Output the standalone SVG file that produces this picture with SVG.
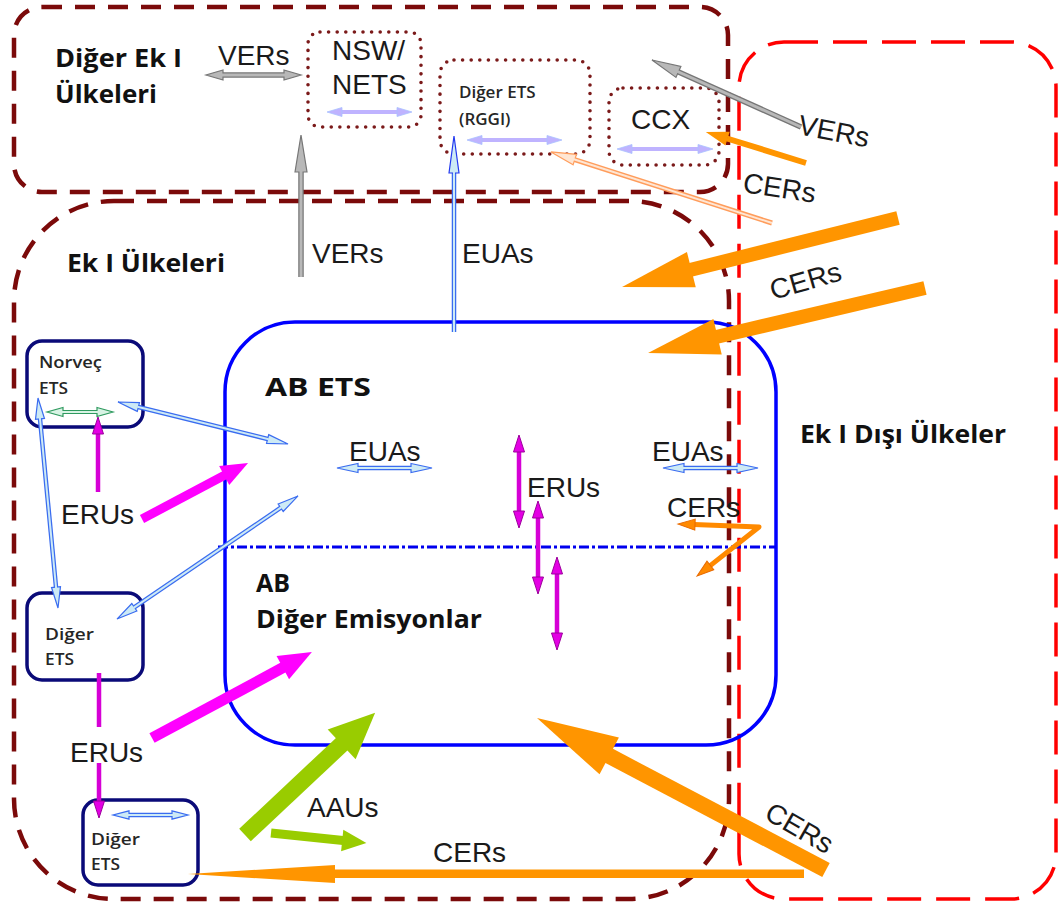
<svg xmlns="http://www.w3.org/2000/svg" width="1063" height="905" viewBox="0 0 1063 905">
  <style>
    .dr { fill: none; stroke: #7b0a0a; stroke-width: 4.5; stroke-dasharray: 20 13; }
    .rd { fill: none; stroke: #ff0000; stroke-width: 3.5; stroke-dasharray: 34 15; }
    .dot { fill: none; stroke: #7b1a1a; stroke-width: 3.6; stroke-dasharray: 0 8.6; stroke-linecap: round; }
    .nv { fill: none; stroke: #0a0a78; stroke-width: 3.5; }
    .ab { fill: none; stroke: #0000ff; stroke-width: 3.5; }
    .dd { fill: none; stroke: #0000ee; stroke-width: 3; stroke-dasharray: 10 3 3 3; }
    .lab { font-family: "Liberation Sans", Arial, sans-serif; font-size: 28px; fill: #1a1a1a; }
    .bold { font-family: "Open Sans", "DejaVu Sans", sans-serif; font-weight: 700; font-size: 25px; fill: #111; }
    .sm { font-family: "Open Sans", "DejaVu Sans", sans-serif; font-weight: 600; font-size: 17px; fill: #262626; }
    .bo { fill: none; stroke: #3a6cf0; stroke-width: 4.5; }
    .bi { fill: none; stroke: #cdeaf5; stroke-width: 2; }
    .go { fill: none; stroke: #767676; stroke-width: 5.5; }
    .gi { fill: none; stroke: #b8b8b8; stroke-width: 3; }
    .lav { fill: none; stroke: #bfb3ff; stroke-width: 4; }
    .gro { fill: none; stroke: #2f9a5f; stroke-width: 4; }
    .gri { fill: none; stroke: #d8f3e4; stroke-width: 1.8; }
    .mg { fill: none; stroke: #d600d6; stroke-width: 4.5; }
    .ot { fill: none; stroke: #ff8a00; stroke-width: 5; stroke-linejoin: round; }
    .opo { fill: none; stroke: #ff9d5c; stroke-width: 5; }
    .opi { fill: none; stroke: #ffe6d3; stroke-width: 2; }
    .tM { fill: none; stroke: #ff00ff; }
    .tG { fill: none; stroke: #99cc00; }
    .tO { fill: none; stroke: #ff9500; }
  </style>
  <defs>
    <!-- thin hollow heads, sizes in user units -->
    <marker id="hb" markerUnits="userSpaceOnUse" orient="auto-start-reverse" refX="0" refY="0" markerWidth="20" markerHeight="10" overflow="visible">
      <path d="M-1,-4.5 L20,0 L-1,4.5 Z" fill="#cdeaf5" stroke="#3a6cf0" stroke-width="1.2"/>
    </marker>
    <marker id="hbs" markerUnits="userSpaceOnUse" orient="auto-start-reverse" refX="0" refY="0" markerWidth="15" markerHeight="9" overflow="visible">
      <path d="M-1,-4.2 L15,0 L-1,4.2 Z" fill="#cdeaf5" stroke="#3a6cf0" stroke-width="1.2"/>
    </marker>
    <marker id="hbL" markerUnits="userSpaceOnUse" orient="auto-start-reverse" refX="0" refY="0" markerWidth="36" markerHeight="10" overflow="visible">
      <path d="M-1,-5 L36,0 L-1,5 Z" fill="#cdeaf5" stroke="#2238f0" stroke-width="1.2"/>
    </marker>
    <marker id="hg" markerUnits="userSpaceOnUse" orient="auto-start-reverse" refX="0" refY="0" markerWidth="16" markerHeight="10" overflow="visible">
      <path d="M-1,-5 L16,0 L-1,5 Z" fill="#b8b8b8" stroke="#767676" stroke-width="1.2"/>
    </marker>
    <marker id="hgL" markerUnits="userSpaceOnUse" orient="auto-start-reverse" refX="0" refY="0" markerWidth="36" markerHeight="12" overflow="visible">
      <path d="M-1,-6 L36,0 L-1,6 Z" fill="#b8b8b8" stroke="#767676" stroke-width="1.2"/>
    </marker>
    <marker id="hgM" markerUnits="userSpaceOnUse" orient="auto-start-reverse" refX="0" refY="0" markerWidth="28" markerHeight="12" overflow="visible">
      <path d="M-1,-6 L28,0 L-1,6 Z" fill="#b8b8b8" stroke="#767676" stroke-width="1.2"/>
    </marker>
    <marker id="hl" markerUnits="userSpaceOnUse" orient="auto-start-reverse" refX="0" refY="0" markerWidth="14" markerHeight="9" overflow="visible">
      <path d="M-1,-4.5 L14,0 L-1,4.5 Z" fill="#bfb3ff" stroke="#a9c2ff" stroke-width="0.8"/>
    </marker>
    <marker id="hgr" markerUnits="userSpaceOnUse" orient="auto-start-reverse" refX="0" refY="0" markerWidth="15" markerHeight="9" overflow="visible">
      <path d="M-1,-4.5 L15,0 L-1,4.5 Z" fill="#d8f3e4" stroke="#2f9a5f" stroke-width="1.2"/>
    </marker>
    <marker id="hm" markerUnits="userSpaceOnUse" orient="auto-start-reverse" refX="0" refY="0" markerWidth="16" markerHeight="11" overflow="visible">
      <path d="M-1,-5.5 L16,0 L-1,5.5 Z" fill="#e400e4" stroke="#9c009c" stroke-width="1"/>
    </marker>
    <marker id="ho" markerUnits="userSpaceOnUse" orient="auto-start-reverse" refX="0" refY="0" markerWidth="16" markerHeight="11" overflow="visible">
      <path d="M-1,-5.5 L16,0 L-1,5.5 Z" fill="#ff8a00" stroke="#e86a00" stroke-width="1"/>
    </marker>
    <marker id="hop" markerUnits="userSpaceOnUse" orient="auto-start-reverse" refX="0" refY="0" markerWidth="24" markerHeight="11" overflow="visible">
      <path d="M-1,-5.5 L24,0 L-1,5.5 Z" fill="#ffe6d3" stroke="#ff9d5c" stroke-width="1.2"/>
    </marker>
    <!-- block-arrow heads, scaled by stroke width -->
    <marker id="hM" orient="auto" refX="0" refY="0" markerWidth="3" markerHeight="3" overflow="visible">
      <path d="M-0.1,-1.2 L2.9,0 L-0.1,1.2 Z" fill="#ff00ff"/>
    </marker>
    <marker id="hG" orient="auto" refX="0" refY="0" markerWidth="3" markerHeight="3" overflow="visible">
      <path d="M-0.1,-1.2 L2.6,0 L-0.1,1.2 Z" fill="#99cc00"/>
    </marker>
    <marker id="hO" orient="auto" refX="0" refY="0" markerWidth="5" markerHeight="3" overflow="visible">
      <path d="M-0.1,-1.3 L5,0 L-0.1,1.3 Z" fill="#ff9500"/>
    </marker>
    <marker id="hOs" orient="auto" refX="0" refY="0" markerWidth="4" markerHeight="3" overflow="visible">
      <path d="M-0.1,-1.2 L3.7,0 L-0.1,1.2 Z" fill="#ff9500"/>
    </marker>
  </defs>

  <rect width="1063" height="905" fill="#ffffff"/>

  <!-- regions -->
  <g id="other-annex-i">
    <rect class="dr" x="14" y="7" width="714" height="185" rx="28"/>
    <text class="bold" x="55" y="67" textLength="127" lengthAdjust="spacingAndGlyphs">Diğer Ek I</text>
    <text class="bold" x="55" y="103" textLength="102" lengthAdjust="spacingAndGlyphs">Ülkeleri</text>
  </g>
  <g id="annex-i">
    <rect class="dr" x="14" y="201" width="715" height="698" rx="100"/>
    <text class="bold" x="67" y="272" textLength="158" lengthAdjust="spacingAndGlyphs">Ek I Ülkeleri</text>
  </g>
  <g id="non-annex-i">
    <rect class="rd" x="739" y="42" width="317" height="857" rx="45"/>
    <text class="bold" x="800" y="443" textLength="206" lengthAdjust="spacingAndGlyphs">Ek I Dışı Ülkeler</text>
  </g>

  <!-- EU ETS with its lower part for other emissions -->
  <g id="eu-ets">
    <rect class="ab" x="225" y="322" width="551" height="423" rx="70"/>
    <line class="dd" x1="218" y1="547" x2="776" y2="547"/>
    <text class="bold" x="265" y="396" font-size="29" textLength="106" lengthAdjust="spacingAndGlyphs">AB ETS</text>
    <text class="bold" x="256" y="592">AB</text>
    <text class="bold" x="256" y="628" textLength="226" lengthAdjust="spacingAndGlyphs">Diğer Emisyonlar</text>
  </g>

  <!-- dotted schemes -->
  <g id="nsw-nets">
    <rect class="dot" x="308" y="32" width="113" height="95" rx="12"/>
    <text class="lab" x="332" y="60">NSW/</text>
    <text class="lab" x="332" y="94">NETS</text>
  </g>
  <g id="rggi">
    <rect class="dot" x="440" y="60" width="150" height="94" rx="14"/>
    <text class="sm" x="459" y="98" font-size="16">Diğer ETS</text>
    <text class="sm" x="459" y="125" font-size="16">(RGGI)</text>
  </g>
  <g id="ccx">
    <rect class="dot" x="609" y="88" width="110" height="77" rx="14"/>
    <text class="lab" x="631" y="129">CCX</text>
  </g>

  <!-- solid boxes -->
  <g id="norway-ets">
    <rect class="nv" x="27" y="341" width="116" height="86" rx="15"/>
    <text class="sm" x="39" y="368" textLength="63" lengthAdjust="spacingAndGlyphs">Norveç</text>
    <text class="sm" x="39" y="394" textLength="29" lengthAdjust="spacingAndGlyphs">ETS</text>
  </g>
  <g id="other-ets-1">
    <rect class="nv" x="27" y="593" width="116" height="87" rx="15"/>
    <text class="sm" x="45" y="640" textLength="49" lengthAdjust="spacingAndGlyphs">Diğer</text>
    <text class="sm" x="45" y="665" textLength="29" lengthAdjust="spacingAndGlyphs">ETS</text>
  </g>
  <g id="other-ets-2">
    <rect class="nv" x="83" y="800" width="115" height="85" rx="15"/>
    <text class="sm" x="91" y="845" textLength="49" lengthAdjust="spacingAndGlyphs">Diğer</text>
    <text class="sm" x="91" y="870" textLength="29" lengthAdjust="spacingAndGlyphs">ETS</text>
  </g>

  <g id="connectors">
    <!-- internal trading arrows -->
    <path class="lav" d="M341,112 H398" marker-start="url(#hl)" marker-end="url(#hl)"/>
    <path class="lav" d="M481,140 H548" marker-start="url(#hl)" marker-end="url(#hl)"/>
    <path class="lav" d="M631,149 H699" marker-start="url(#hl)" marker-end="url(#hl)"/>
    <path class="gro" d="M62,412 H98" marker-start="url(#hgr)" marker-end="url(#hgr)"/>
    <path class="gri" d="M62,412 H98"/>
    <path class="bo" d="M128,815 H173" marker-start="url(#hbs)" marker-end="url(#hbs)"/>
    <path class="bi" d="M128,815 H173"/>

    <!-- VERs -->
    <path class="go" d="M222,75 H285" marker-start="url(#hg)" marker-end="url(#hg)"/>
    <path class="gi" d="M222,75 H285"/>
    <path class="go" d="M301,277 V171" marker-end="url(#hgL)"/>
    <path class="gi" d="M301,277 V171"/>
    <path class="go" d="M801,127 L677.5,71.5" marker-end="url(#hgM)"/>
    <path class="gi" d="M801,127 L677.5,71.5"/>

    <!-- EUAs -->
    <path class="bo" d="M454,332 V172" stroke="#2238f0" marker-end="url(#hbL)"/>
    <path class="bi" d="M454,332 V172"/>
    <path class="bo" d="M357,468 H412" marker-start="url(#hb)" marker-end="url(#hb)"/>
    <path class="bi" d="M357,468 H412"/>
    <path class="bo" d="M683,468 H738" marker-start="url(#hb)" marker-end="url(#hb)"/>
    <path class="bi" d="M683,468 H738"/>
    <path class="bo" d="M137.4,406.8 L268.6,439.2" marker-start="url(#hb)" marker-end="url(#hb)"/>
    <path class="bi" d="M137.4,406.8 L268.6,439.2"/>
    <path class="bo" d="M39.9,417.9 L56.1,588.1" marker-start="url(#hb)" marker-end="url(#hb)"/>
    <path class="bi" d="M39.9,417.9 L56.1,588.1"/>
    <path class="bo" d="M133.5,607.8 L281.5,507.2" marker-start="url(#hb)" marker-end="url(#hb)"/>
    <path class="bi" d="M133.5,607.8 L281.5,507.2"/>

    <!-- ERUs -->
    <path class="mg" d="M98,492 V433" marker-end="url(#hm)"/>
    <path class="mg" d="M99,673 V727"/>
    <path class="mg" d="M99,763 V802" marker-end="url(#hm)"/>
    <path class="mg" d="M519,451 V512" marker-start="url(#hm)" marker-end="url(#hm)"/>
    <path class="mg" d="M538,517 V578" marker-start="url(#hm)" marker-end="url(#hm)"/>
    <path class="mg" d="M557,573 V634" marker-start="url(#hm)" marker-end="url(#hm)"/>
    <path class="tM" stroke-width="9" d="M142,519 L225,475.1" marker-end="url(#hM)"/>
    <path class="tM" stroke-width="11" d="M152,738 L283.8,667.2" marker-end="url(#hM)"/>

    <!-- AAUs -->
    <path class="tG" stroke-width="17" d="M245,835 L342.9,743.1" marker-end="url(#hG)"/>
    <path class="tG" stroke-width="9" d="M271,833 L343.1,840.5" marker-end="url(#hG)"/>

    <!-- CERs -->
    <path class="opo" d="M772,223 L573.8,159.3" marker-end="url(#hop)"/>
    <path class="opi" d="M772,223 L573.8,159.3"/>
    <path class="tO" stroke-width="6" d="M806,163 L727,138.5" marker-end="url(#hOs)"/>
    <path class="tO" stroke-width="14" d="M898,218 L690,270" marker-end="url(#hO)"/>
    <path class="tO" stroke-width="14" d="M925,288 L716.2,337" marker-end="url(#hO)"/>
    <path class="tO" stroke-width="16" d="M826,870 L607.8,755.2" marker-end="url(#hO)"/>
    <polygon points="188,874 335,865 335,869.5 804,869.5 804,878 335,878 335,883" fill="#ff9500"/>
    <path class="ot" d="M694,524.6 L759,527 L709.6,566.1" marker-start="url(#ho)" marker-end="url(#ho)"/>

    <!-- connector labels -->
    <text class="lab" x="218" y="65">VERs</text>
    <text class="lab" x="312" y="263">VERs</text>
    <text class="lab" x="462" y="263">EUAs</text>
    <text class="lab" transform="translate(797,134) rotate(10.7)">VERs</text>
    <text class="lab" transform="translate(742,192) rotate(8.5)">CERs</text>
    <text class="lab" transform="translate(773,300) rotate(-16)">CERs</text>
    <text class="lab" transform="translate(763,818) rotate(30)">CERs</text>
    <text class="lab" x="349" y="461">EUAs</text>
    <text class="lab" x="527" y="497">ERUs</text>
    <text class="lab" x="652" y="461">EUAs</text>
    <text class="lab" x="667" y="517">CERs</text>
    <text class="lab" x="61" y="524">ERUs</text>
    <text class="lab" x="70" y="762">ERUs</text>
    <text class="lab" x="307" y="817">AAUs</text>
    <text class="lab" x="433" y="862">CERs</text>
  </g>
</svg>
